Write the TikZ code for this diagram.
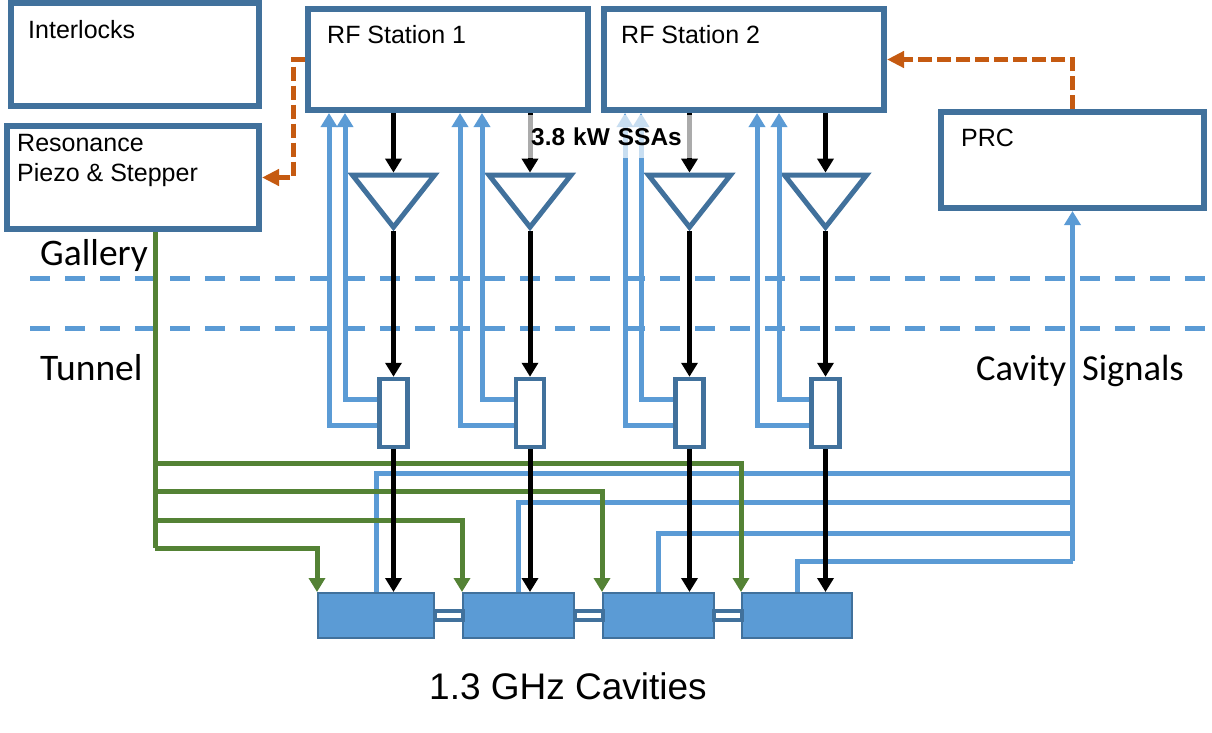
\documentclass[tikz,border=0pt]{standalone}
\usepackage{fontspec}
\setmainfont{Liberation Sans}
\newfontfamily\calibrifont{Carlito}
\usetikzlibrary{arrows.meta, shapes.geometric, positioning, calc}
\definecolor{boxblue}{HTML}{41719C}
\definecolor{sigblue}{HTML}{5B9BD5}
\definecolor{tunegreen}{HTML}{548235}
\definecolor{ctrlorange}{HTML}{C55A11}
\tikzset{%
  >={Triangle[width=16pt,length=14pt]},
  % Specifications for style of nodes:
        base/.style = {rectangle, draw=boxblue, fill=white, line width=6pt},
        station/.style = {base, minimum width=280pt, minimum height=101pt},
        amp/.style = {isosceles triangle, isosceles triangle apex angle=75,
                           isosceles triangle stretches, shape border rotate=-90,
                           draw=boxblue, fill=white, line width=5pt, inner sep=0pt,
                           minimum width=82pt, minimum height=52pt},
        atten/.style = {base, line width=4.5pt, minimum width=28pt, minimum height=68pt},
        cavity/.style = {rectangle, draw=boxblue, fill=sigblue, line width=2pt,
                           minimum height=45pt},
        joint/.style = {rectangle, draw=boxblue, fill=white, line width=4pt,
                           minimum width=28pt, minimum height=9pt},
        boxtext/.style = {anchor=base west, inner sep=0pt,
                           font=\fontsize{25}{30}\selectfont},
        bigtext/.style = {anchor=base west, inner sep=0pt,
                           font=\calibrifont\fontsize{37.5}{40}\selectfont},
  % Specifications for style of lines:
        drive/.style = {draw=black, line width=5pt},
        cavsig/.style = {draw=sigblue, line width=5pt},
        tuner/.style = {draw=tunegreen, line width=5pt},
        ctrl/.style = {draw=ctrlorange, line width=5pt, dash pattern=on 14pt off 5pt,
                           >={Triangle[width=16pt,length=17pt]}},
        level/.style = {draw=sigblue, line width=5pt, dash pattern=on 20pt off 15pt}
}

\begin{document}
\begin{tikzpicture}[x=1pt, y=-1pt]
  \useasboundingbox (0,0) rectangle (1212,732);
  % Specification of nodes (position, etc.)
    \node (interlocks) [base, minimum width=248pt, minimum height=103pt] at (135,54.5) {};
    \node (reso)       [base, minimum width=252pt, minimum height=103pt] at (133,177.5) {};
    \node (rf1)        [station] at (448,59.5) {};
    \node (rf2)        [station, right=10pt of rf1] {};
    \node (prc)        [base, minimum width=263pt, minimum height=96pt] at (1072.5,160) {};

    \node (amp1)       [amp] at (393.5,195) {};
    \node (amp2)       [amp] at (530,195) {};
    \node (amp3)       [amp] at (689.5,195) {};
    \node (amp4)       [amp] at (825.5,195) {};

    \node (atten1)     [atten] at (393.5,413) {};
    \node (atten2)     [atten] at (530,413) {};
    \node (atten3)     [atten] at (689.5,413) {};
    \node (atten4)     [atten] at (825.5,413) {};

    \node (cav1)       [cavity, minimum width=116pt] at (376,615.5) {};
    \node (cav2)       [cavity, minimum width=111pt, right=27pt of cav1] {};
    \node (cav3)       [cavity, minimum width=111pt, right=27pt of cav2] {};
    \node (cav4)       [cavity, minimum width=110pt, right=26pt of cav3] {};
    \node (joint1)     [joint] at ($(cav1.east)!.5!(cav2.west)$) {};
    \node (joint2)     [joint] at ($(cav2.east)!.5!(cav3.west)$) {};
    \node (joint3)     [joint] at ($(cav3.east)!.5!(cav4.west)$) {};

    \coordinate (gallery1) at (30,278);
    \coordinate (gallery2) at (1206,278);
    \coordinate (tunnel1)  at (30,328);
    \coordinate (tunnel2)  at (1206,328);
    \coordinate (trunk)    at (155,548);

  % Specification of lines between nodes specified above
  \draw[level] (gallery1) -- (gallery2);
  \draw[level] (tunnel1) -- (tunnel2);

  % cavity signals back to the PRC
  \foreach \n/\y in {1/473, 2/502, 3/533, 4/561} {
    \coordinate (bus\n) at (prc.south |- 0,\y);
    \draw[cavsig] (cav\n.north) |- (bus\n);
  }
  \draw[cavsig, ->] (bus4) -- (prc.south);

  % signals from the couplers to the stations
  \foreach \a/\r/\outer/\inner in {1/rf1/-119/-103, 2/rf1/12/34, 3/rf2/-119/-103, 4/rf2/13/35} {
    \draw[cavsig, ->] ([yshift=14pt]atten\a.west) -| ([xshift=\inner pt]\r.south);
    \draw[cavsig, ->] ([yshift=-12pt]atten\a.west) -| ([xshift=\outer pt]\r.south);
  }

  % tuner lines
  \draw[tuner] ([xshift=22pt]reso.south) -- (trunk);
  \foreach \y/\c in {463/cav4, 491/cav3, 520/cav2, 548/cav1}
    \draw[tuner, ->] (155,\y) -| (\c.north west);

  % rf drive
  \foreach \n/\r in {1/rf1, 2/rf1, 3/rf2, 4/rf2} {
    \draw[drive, ->] (\r.south -| amp\n.north) -- (amp\n.north);
    \draw[drive, ->] (amp\n.south) -- (atten\n.north);
    \draw[drive, ->] (atten\n.south) -- (atten\n.south |- cav1.north);
  }

  \draw[ctrl, ->] (rf1.west) -- ++(-12,0) |- (reso.east);
  \draw[ctrl, ->] (prc.north) |- (rf2.east);

  % text
    \node (interlockstext) [boxtext] at (28,38) {Interlocks};
    \node (resotext)  [boxtext, anchor=north west, align=left] at (17,134) {Resonance\\Piezo \& Stepper};
    \node (rf1text)   [boxtext] at (327,43) {RF Station 1};
    \node (rf2text)   [boxtext] at (621,43) {RF Station 2};
    \node (prctext)   [boxtext] at (961,146) {PRC};
    \node (ssa)       [fill=white, fill opacity=.67, text opacity=1, anchor=north west,
                       inner xsep=4pt, inner ysep=0pt, text width=160pt, minimum height=43pt,
                       font=\bfseries\fontsize{24.4}{28}\selectfont] at (527,115) {3.8 kW SSAs};
    \node (gallery)   [bigtext] at (40,265) {Gallery};
    \node (tunnel)    [bigtext] at (40,380) {Tunnel};
    \node (signals)   [bigtext, font=\calibrifont\fontsize{36.5}{40}\selectfont] at (976,380) {Cavity\hspace{16pt}Signals};
    \node (cavities)  [boxtext, font=\fontsize{37}{40}\selectfont] at (429,699) {1.3 GHz Cavities};
\end{tikzpicture}
\end{document}
